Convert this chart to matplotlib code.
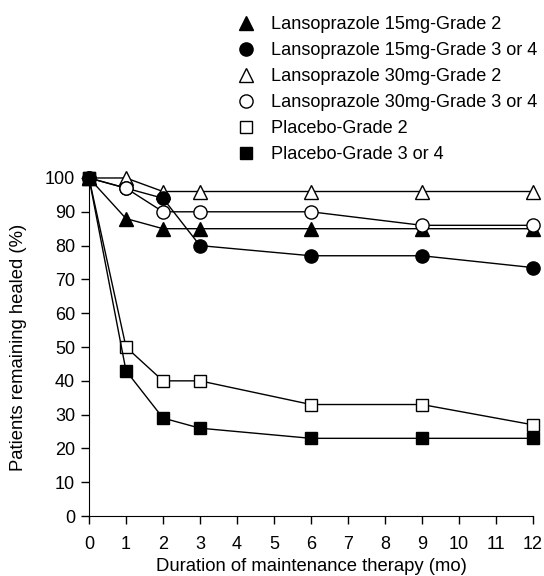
import matplotlib
matplotlib.use('Agg')
import matplotlib.pyplot as plt

plt.rcParams['font.family'] = ['Liberation Sans', 'DejaVu Sans']

# months of follow-up
months = [0, 1, 2, 3, 6, 9, 12]

# percent remaining healed
l15_g2 = [100, 88, 85, 85, 85, 85, 85]
l15_g34 = [100, 97, 94, 80, 77, 77, 73.5]
l30_g2 = [100, 100, 96, 96, 96, 96, 96]
l30_g34 = [100, 97, 90, 90, 90, 86, 86]
pl_g2 = [100, 50, 40, 40, 33, 33, 27]
pl_g34 = [100, 43, 29, 26, 23, 23, 23]

labels = ['Lansoprazole 15mg-Grade 2', 'Lansoprazole 15mg-Grade 3 or 4',
          'Lansoprazole 30mg-Grade 2', 'Lansoprazole 30mg-Grade 3 or 4',
          'Placebo-Grade 2', 'Placebo-Grade 3 or 4']

fs = 13

fig = plt.figure(figsize=(5.44, 5.76), dpi=100)
ax = fig.add_axes([0.1636, 0.104, 0.816, 0.587])

series = [
    (l15_g2, '^', 'black', 10, 4),
    (pl_g2, 's', 'white', 8.5, 3),
    (pl_g34, 's', 'black', 8.5, 7),
    (l30_g2, '^', 'white', 10, 3),
    (l15_g34, 'o', 'black', 9.5, 5),
    (l30_g34, 'o', 'white', 9.5, 6),
]
handles = {}
for vals, mk, fc, ms, z in series:
    h, = ax.plot(months, vals, color='black', lw=1.0, marker=mk, ms=ms,
                 mfc=fc, mec='black', mew=1.0, clip_on=False, zorder=z)
    handles[id(vals)] = h

order = [l15_g2, l15_g34, l30_g2, l30_g34, pl_g2, pl_g34]
fig.legend([handles[id(v)] for v in order], labels, loc='upper left',
           bbox_to_anchor=(0.422, 0.985), frameon=False, fontsize=13.1,
           handlelength=1.0, handletextpad=0.9, labelspacing=0.5,
           borderaxespad=0)
# legend shows markers only
for line in fig.legends[0].get_lines():
    line.set_linestyle('none')

ax.set_xlim(0, 12)
ax.set_ylim(0, 100)
ax.set_xticks(range(0, 13))
ax.set_yticks(range(0, 101, 10))
ax.spines['top'].set_visible(False)
ax.spines['right'].set_visible(False)
ax.tick_params(direction='out', length=6, width=1, labelsize=fs, pad=4)
ax.tick_params(axis='x', pad=8)
ax.set_xlabel('Duration of maintenance therapy (mo)', fontsize=13.3, labelpad=4)
ax.set_ylabel('Patients remaining healed (%)', fontsize=13.3, labelpad=13)

fig.savefig('out.png', dpi=100)
